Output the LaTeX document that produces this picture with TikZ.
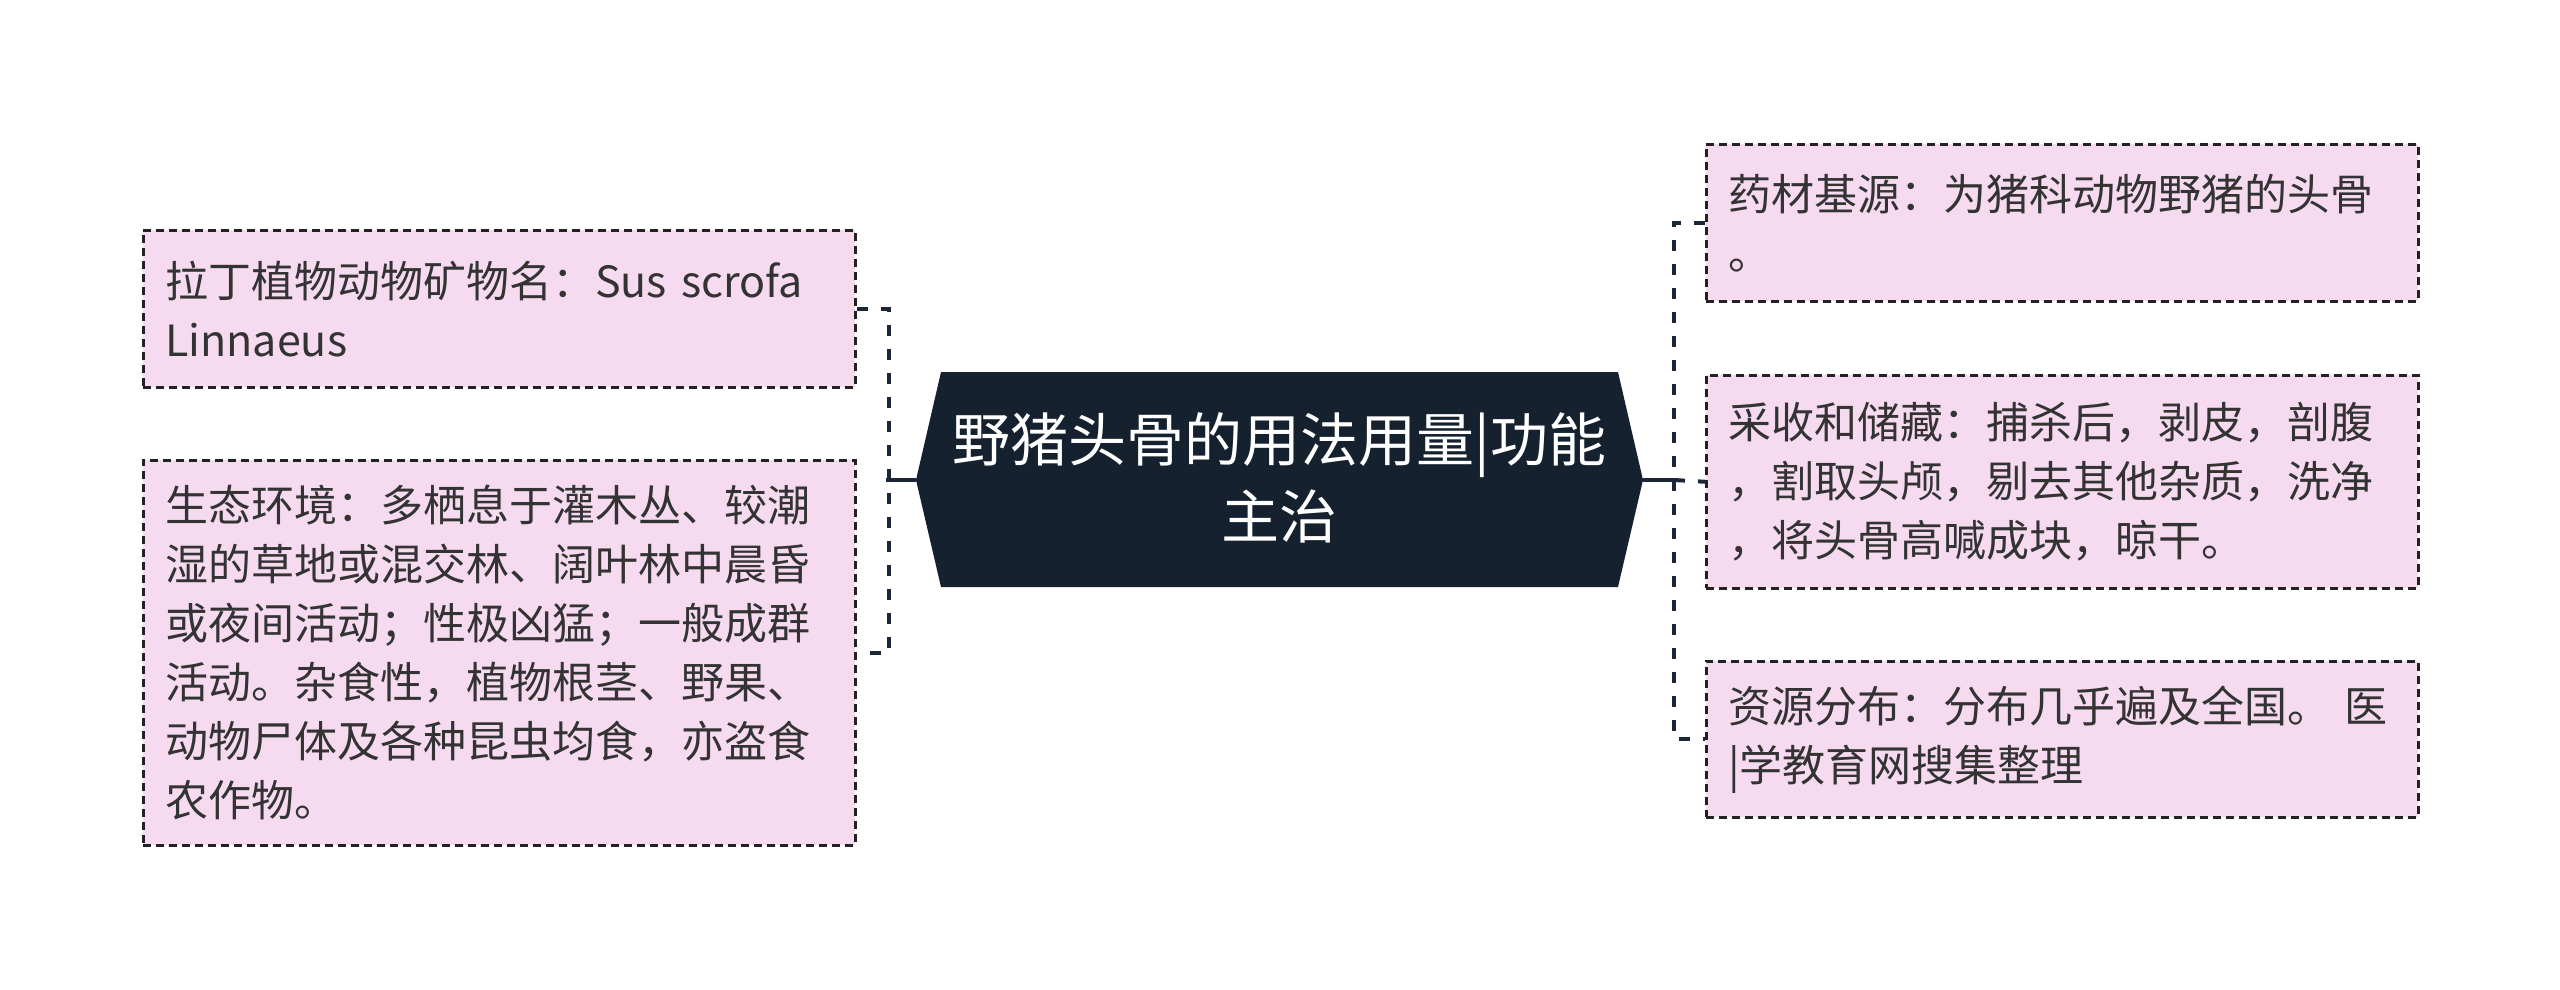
\documentclass[tikz,border=0pt]{standalone}
\usepackage{fontspec}
\setmainfont{Noto Sans CJK SC}
\definecolor{boxfill}{HTML}{F6DBF0}
\definecolor{boxline}{HTML}{222222}
\definecolor{hexfill}{HTML}{15212F}
\definecolor{connc}{HTML}{1B2636}
\definecolor{txt}{HTML}{333333}
\tikzset{
  leaf/.style={draw=boxline, fill=boxfill, line width=2.5pt, dash pattern=on 8pt off 5pt,
    minimum width=712pt, text width=668pt, inner xsep=22pt, inner ysep=0pt,
    align=left, anchor=north west, text=txt,
    font=\fontsize{43}{59}\selectfont},
  conn/.style={draw=connc, line width=4pt, dash pattern=on 11pt off 13pt},
  stem/.style={draw=connc, line width=4pt},
}
\begin{document}
\begin{tikzpicture}[x=1pt,y=-1pt]
\useasboundingbox (0,0) rectangle (2560,989);
% hexagon
\fill[hexfill] (916,480) -- (941,372) -- (1618,372) -- (1643,480) -- (1618,587) -- (941,587) -- cycle;
\node[text=white, align=center, font=\fontsize{58}{77}\selectfont] (center) at (1279.5,478) {野猪头骨的用法用量|功能\\主治};
\coordinate (hexW) at (916,480);
\coordinate (hexE) at (1643,480);
\coordinate (bl) at (886,480);
\coordinate (br) at (1674,480);
% left leaves
\node[leaf, minimum height=157pt] (L1) at (142,229) {拉丁植物动物矿物名：Sus scrofa\\Linnaeus};
\node[leaf, minimum height=385pt] (L2) at (142,459) {生态环境：多栖息于灌木丛、较潮\\湿的草地或混交林、阔叶林中晨昏\\或夜间活动；性极凶猛；一般成群\\活动。杂食性，植物根茎、野果、\\动物尸体及各种昆虫均食，亦盗食\\农作物。};
% right leaves
\node[leaf, minimum height=157pt] (R1) at (1705,143) {药材基源：为猪科动物野猪的头骨\\。};
\node[leaf, minimum height=213pt] (R2) at (1705,374) {采收和储藏：捕杀后，剥皮，剖腹\\，割取头颅，剔去其他杂质，洗净\\，将头骨高喊成块，晾干。};
\node[leaf, minimum height=156pt] (R3) at (1705,660) {资源分布：分布几乎遍及全国。 医\\|学教育网搜集整理};
% connectors
\draw[stem] (hexW) -- (bl);
\draw[conn] (L1.east) -- ++(32,0) |- (L2.east);
\draw[stem] (hexE) -- (br);
\draw[conn] (R1.west) -- ++(-31,0) |- (R3.west);
\draw[conn] (br) -- (R2.west);
\end{tikzpicture}
\end{document}
